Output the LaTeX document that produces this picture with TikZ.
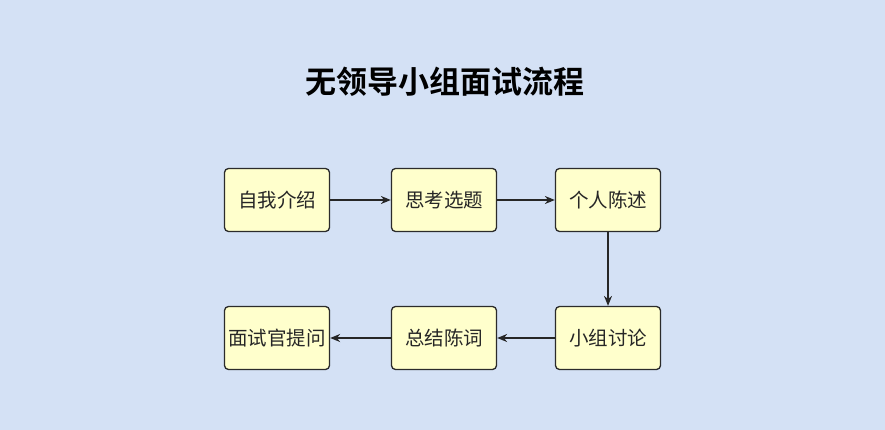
\documentclass[tikz,border=0pt]{standalone}
\usepackage{fontspec}
\newfontfamily\cjk{Noto Sans CJK SC}
\newfontfamily\cjkbold{Noto Sans CJK SC Bold}
\usetikzlibrary{arrows.meta}
\definecolor{bgc}{HTML}{D4E1F5}
\definecolor{boxfill}{HTML}{FFFFCC}
\definecolor{boxline}{HTML}{2B2B2B}
\begin{document}
\begin{tikzpicture}[x=1pt,y=-1pt,
  stepbox/.style={draw=boxline,fill=boxfill,line width=1.3pt,rounded corners=4pt,
    minimum width=105pt,minimum height=63pt,inner sep=0pt,font=\cjk\fontsize{19.5}{22}\selectfont,text=black!85},
  conn/.style={draw=black!85,line width=1.2pt,-{Stealth[length=10pt,width=8pt]}}]
\fill[bgc] (0,0) rectangle (885,430);
\useasboundingbox (0,0) rectangle (885,430);
\node[font=\cjkbold\fontsize{31}{34}\selectfont] (title) at (445,82) {无领导小组面试流程};
\node[stepbox] (a) at (277,200) {自我介绍};
\node[stepbox] (b) at (444,200) {思考选题};
\node[stepbox] (c) at (608,200) {个人陈述};
\node[stepbox] (d) at (608,338) {小组讨论};
\node[stepbox] (e) at (444,338) {总结陈词};
\node[stepbox] (f) at (277,338) {面试官提问};
\draw[conn] (a) -- (b);
\draw[conn] (b) -- (c);
\draw[conn] (c) -- (d);
\draw[conn] (d) -- (e);
\draw[conn] (e) -- (f);
\end{tikzpicture}
\end{document}
